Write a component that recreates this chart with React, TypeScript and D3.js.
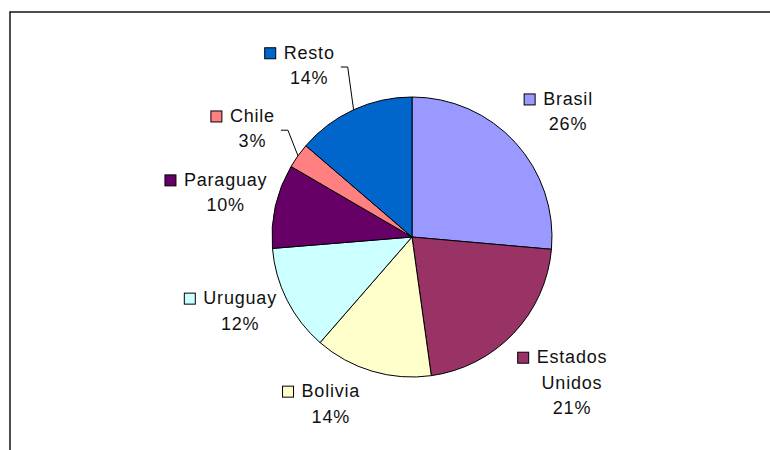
import * as d3 from "d3";

// share of each destination, clockwise from 12 o'clock
const countries = [
  "Brasil",
  "Estados Unidos",
  "Bolivia",
  "Uruguay",
  "Paraguay",
  "Chile",
  "Resto",
];
const shares = [26.4, 21.4, 13.6, 12.3, 9.7, 2.9, 13.7];
const colors = [
  "#9999FF",
  "#993366",
  "#FFFFCC",
  "#CCFFFF",
  "#660066",
  "#FF8080",
  "#0066CC",
];

// labels Excel moved by hand, [dx, dy] from their default spot
const labelShift: [number, number][] = [
  [-2, 0],
  [-3, 4],
  [-32, -17],
  [9, -14],
  [17, -5],
  [-7, -1],
  [-28, -2],
];
// which labels have a leader line back to the slice
const hasLeader = [false, false, false, false, false, true, true];

const width = 770;
const height = 450;
const cx = 412;
const cy = 237;
const radius = 140;
const labelRadius = 167;
const fontSize = 18;
const letterSpacing = 0.8;
const lineH = 25.5;
const swatch = 11;
const swatchGap = 8;

const fontFamily = "'Liberation Sans', Arial, sans-serif";

let ctx: CanvasRenderingContext2D | null = null;
function textWidth(t: string) {
  if (!ctx) ctx = document.createElement("canvas").getContext("2d");
  if (!ctx) return t.length * fontSize * 0.55;
  ctx.font = `${fontSize}px ${fontFamily}`;
  return ctx.measureText(t).width + letterSpacing * t.length;
}

export default function App() {
  const arcs = d3
    .pie<number>()
    .sort(null)
    .value((d) => d)(shares);
  const arc = d3
    .arc<d3.PieArcDatum<number>>()
    .innerRadius(0)
    .outerRadius(radius);

  const labels = arcs.map((a, i) => {
    const mid = (a.startAngle + a.endAngle) / 2;
    const s = Math.sin(mid);
    const c = Math.cos(mid);
    const lines = [...countries[i].split(" "), `${Math.round(shares[i])}%`];
    const maxW = d3.max(lines, textWidth) ?? 0;
    const w = swatch + swatchGap + maxW;
    const h = (lines.length - 1) * lineH + 19;
    const bx = cx + labelRadius * s + (s * w) / 2 + labelShift[i][0];
    const by = cy - labelRadius * c - (c * h) / 2 + labelShift[i][1];
    const left = bx - w / 2;
    const top = by - h / 2;
    const textCx = left + swatch + swatchGap + maxW / 2;
    const firstBase = top + 18;
    const nameW = textWidth(lines[0]);
    let leader = "";
    if (hasLeader[i]) {
      const sx = left + w + 6;
      const sy = by + 4;
      const ex = cx + radius * s;
      const ey = cy - radius * c;
      leader = d3.line()([
        [sx, sy],
        [sx + 7, sy],
        [ex, ey],
      ]) as string;
    }
    return { lines, textCx, firstBase, nameW, leader };
  });

  return (
    <svg
      width={width}
      height={height}
      style={{ position: "absolute", left: 0, top: 0, background: "#fff" }}
    >
      <rect
        x={10}
        y={12}
        width={820}
        height={520}
        fill="#fff"
        stroke="#222"
        strokeWidth={1.6}
      />
      <g transform={`translate(${cx},${cy})`}>
        {arcs.map((a, i) => (
          <path
            key={i}
            d={arc(a) ?? ""}
            fill={colors[i]}
            stroke="#000"
            strokeWidth={1}
          />
        ))}
      </g>
      <g fill="none" stroke="#000" strokeWidth={1}>
        {labels.map((l, i) => (l.leader ? <path key={i} d={l.leader} /> : null))}
      </g>
      <g
        fontFamily={fontFamily}
        fontSize={fontSize}
        fill="#111"
        style={{ letterSpacing: `${letterSpacing}px` }}
      >
        {labels.map((l, i) => (
          <g key={i}>
            <rect
              x={l.textCx - l.nameW / 2 - swatchGap - swatch}
              y={l.firstBase - swatch}
              width={swatch}
              height={swatch}
              fill={colors[i]}
              stroke="#000"
              strokeWidth={1}
            />
            {l.lines.map((t, j) => (
              <text
                key={j}
                x={l.textCx}
                y={l.firstBase + j * lineH}
                textAnchor="middle"
              >
                {t}
              </text>
            ))}
          </g>
        ))}
      </g>
    </svg>
  );
}
